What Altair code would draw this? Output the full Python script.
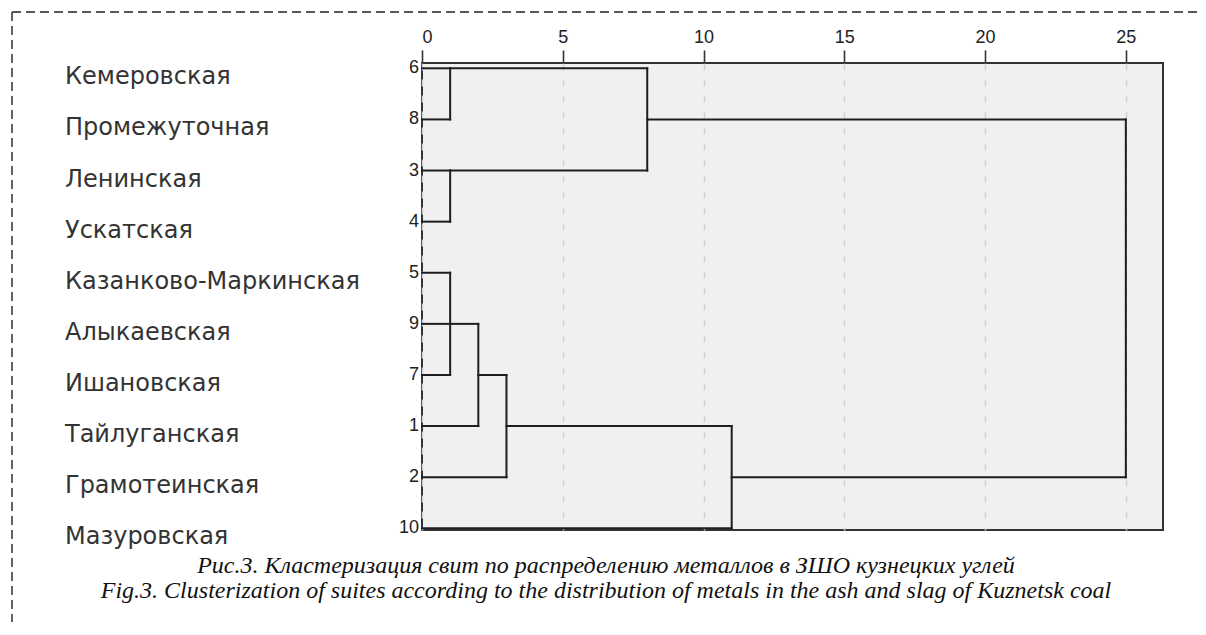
import altair as alt
import pandas as pd

# ---- data -------------------------------------------------------------------
leaf_ids = [6, 8, 3, 4, 5, 9, 7, 1, 2, 10]
suite_names = [
    "Кемеровская", "Промежуточная", "Ленинская", "Ускатская",
    "Казанково-Маркинская", "Алыкаевская", "Ишановская",
    "Тайлуганская", "Грамотеинская", "Мазуровская",
]
# index of the merge each leaf (row) first joins
leaf_join = [0, 0, 1, 1, 2, 2, 2, 3, 4, 6]
# merges (rescaled distance), rows spanned, row of outgoing branch, parent merge
merge_height = [1, 1, 1, 2, 3, 8, 11, 25]
merge_top = [0, 2, 4, 5, 6, 0, 7, 1]
merge_bottom = [1, 3, 6, 7, 8, 2, 9, 8]
merge_out = [0, 2, 5, 6, 7, 1, 8, None]
merge_parent = [5, 5, 3, 4, 6, 7, 7, None]
tick_values = [0, 5, 10, 15, 20, 25]
caption_lines = [
    "Рис.3. Кластеризация свит по распределению металлов в ЗШО кузнецких углей",
    "Fig.3. Clusterization of suites according to the distribution of metals in the ash and slag of Kuznetsk coal",
]

# ---- build tables ---------------------------------------------------------------
segs = []
for r in range(len(leaf_ids)):
    segs.append({"x": 0, "x2": merge_height[leaf_join[r]], "y": r, "y2": r})
for m, h in enumerate(merge_height):
    segs.append({"x": h, "x2": h, "y": merge_top[m], "y2": merge_bottom[m]})
    if merge_parent[m] is not None:
        o = merge_out[m]
        segs.append({"x": h, "x2": merge_height[merge_parent[m]], "y": o, "y2": o})
seg_df = pd.DataFrame(segs)
leaf_df = pd.DataFrame({"row": list(range(len(leaf_ids))), "id": [str(i) for i in leaf_ids], "name": suite_names})
one = pd.DataFrame({"k": [0]})

xs = alt.Scale(domain=[0, 26.32], nice=False, zero=False)
ys = alt.Scale(domain=[-0.104, 9.033], nice=False, zero=False, reverse=True)

W, H = 741, 467

tree = alt.Chart(seg_df).mark_rule(color="#1e1e1e", strokeWidth=2, strokeCap="square").encode(
    x=alt.X("x:Q", scale=xs, axis=alt.Axis(
        orient="top", values=tick_values, title=None, domain=False,
        ticks=True, tickSize=13, tickWidth=1.6, tickColor="#333",
        labelFont="Liberation Sans", labelFontSize=18, labelColor="#222", labelPadding=4,
        grid=True, gridDash=[7, 9], gridColor="#d2d2d2", gridWidth=1.5,
    )),
    x2="x2:Q",
    y=alt.Y("y:Q", scale=ys, axis=None),
    y2="y2:Q",
)

ids = alt.Chart(leaf_df).mark_text(
    align="right", baseline="middle", font="Liberation Sans", fontSize=18, color="#222"
).encode(x=alt.value(-3), y=alt.Y("row:Q", scale=ys, axis=None), text="id:N")

names = alt.Chart(leaf_df).mark_text(
    align="left", baseline="middle", font="DejaVu Sans", fontSize=24, color="#333", dy=9
).encode(x=alt.value(-357), y=alt.Y("row:Q", scale=ys, axis=None), text="name:N")

caption = alt.Chart(one).mark_text(
    text=caption_lines, align="center", baseline="middle", lineHeight=25,
    font="Liberation Serif", fontStyle="italic", fontSize=24, color="#111"
).encode(x=alt.value(184), y=alt.value(503))

border_top = alt.Chart(one).mark_rule(color="#222", strokeWidth=1.4, strokeDash=[9, 5]).encode(
    x=alt.value(-410), x2=alt.value(800), y=alt.value(-51)
)
border_left = alt.Chart(one).mark_rule(color="#222", strokeWidth=1.4, strokeDash=[9, 5]).encode(
    x=alt.value(-410), y=alt.value(-51), y2=alt.value(620)
)

chart = alt.layer(tree, ids, names, caption, border_top, border_left).properties(
    width=W, height=H,
    autosize=alt.AutoSizeParams(type="none"),
    padding={"left": 414, "top": 55, "right": 35, "bottom": 92},
).configure_view(
    fill="#f0f0f0", stroke="#333333", strokeWidth=2
)

chart.save("out.html", embed_options={"renderer": "svg", "actions": False})
